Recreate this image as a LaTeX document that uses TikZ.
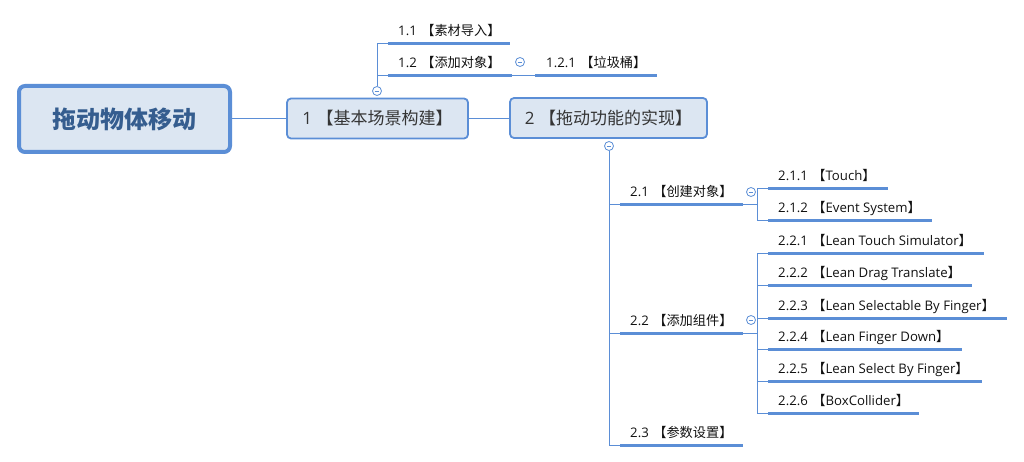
\documentclass[tikz,border=0pt]{standalone}
\usepackage{fontspec}
\setmainfont{Open Sans}
\newfontfamily\cjk{Noto Sans CJK SC}
\definecolor{lineblue}{HTML}{5B8ED6}
\definecolor{boxfill}{HTML}{DCE6F2}
\definecolor{roottext}{HTML}{355D8F}
\definecolor{txt}{HTML}{111111}
\newcommand{\lb}{{\cjk 【}}
\newcommand{\rb}{{\cjk 】}}
\newcommand{\gap}{\hspace{4.5pt}}
\tikzset{
  rootbox/.style={draw=lineblue, line width=4pt, fill=boxfill, rounded corners=6pt, minimum width=211pt, minimum height=66pt, inner sep=0pt, font=\cjk\fontsize{24}{28}\selectfont\bfseries, text=roottext},
  mainbox/.style={draw=lineblue, line width=1.8pt, fill=boxfill, rounded corners=4pt, minimum height=40pt, inner sep=0pt, font=\fontsize{17}{20}\selectfont, text=txt!85},
  lbl/.style={anchor=base west, inner sep=0pt, font=\fontsize{13.2}{15}\selectfont, text=txt},
  uline/.style={draw=lineblue, line width=3pt},
  conn/.style={draw=lineblue, line width=1pt},
  fold/.style={circle, draw=lineblue, line width=0.8pt, fill=white, minimum size=9pt, inner sep=0pt,
    path picture={\draw[lineblue, line width=0.8pt] ([xshift=-2.3pt]path picture bounding box.center) -- ([xshift=2.3pt]path picture bounding box.center);}}
}
\begin{document}
\begin{tikzpicture}[x=1pt, y=-1pt]
\useasboundingbox (0,0) rectangle (1024,462);

% main boxes
\node[rootbox] (root) at (124.5,119) {拖动物体移动};
\node[mainbox, minimum width=181pt] (n1) at (377.5,118.5) {1\gap{\cjk 【基本场景构建】}};
\node[mainbox, minimum width=197pt] (n2) at (608.5,118) {2\gap{\cjk 【拖动功能的实现】}};

\draw[conn] (root.east |- n1.west) -- (n1.west);
\draw[conn] (n1.east) -- (n2.west |- n1.east);

% ---------- branch 1 ----------
\node[fold] (f1) at (377,91) {};
\coordinate (u11s) at (388,44);  \coordinate (u11e) at (510,44);
\coordinate (u12s) at (388,76);  \coordinate (u12e) at (512,76);
\coordinate (u121s) at (535,76); \coordinate (u121e) at (657,76);
\draw[conn] (f1.north) -- (f1.north |- u11s) -- (u11s);
\draw[conn] (f1.north |- u12s) -- (u12s);
\draw[uline] (u11s) -- (u11e);
\draw[uline] (u12s) -- (u12e);
\draw[conn] (u12e) -- (u121s);
\draw[uline] (u121s) -- (u121e);
\node[fold] (f12) at (520,62) {};
\node[lbl] (t11) at (398,36) {1.1\gap{\cjk 【素材导入】}};
\node[lbl] (t12) at (398,68) {1.2\gap{\cjk 【添加对象】}};
\node[lbl] (t121) at (546,68) {1.2.1\gap{\cjk 【垃圾桶】}};

% ---------- branch 2 ----------
\node[fold] (f2) at (609,146) {};
\coordinate (u21s) at (620,205);  \coordinate (u21e) at (743,205);
\coordinate (u22s) at (620,333);  \coordinate (u22e) at (743,333);
\coordinate (u23s) at (620,445);  \coordinate (u23e) at (743,445);
\draw[conn] (f2.south) -- (f2.south |- u23s) -- (u23s);
\draw[conn] (f2.south |- u21s) -- (u21s);
\draw[conn] (f2.south |- u22s) -- (u22s);
\draw[uline] (u21s) -- (u21e);
\draw[uline] (u22s) -- (u22e);
\draw[uline] (u23s) -- (u23e);
\node[lbl] (t21) at (630,197) {2.1\gap{\cjk 【创建对象】}};
\node[lbl] (t22) at (630,325) {2.2\gap{\cjk 【添加组件】}};
\node[lbl] (t23) at (630,437) {2.3\gap{\cjk 【参数设置】}};

% 2.1 children
\coordinate (v21) at (757,205);
\coordinate (u211s) at (768,189); \coordinate (u211e) at (888,189);
\coordinate (u212s) at (768,221); \coordinate (u212e) at (932,221);
\draw[conn] (u21e) -- (v21);
\draw[conn] (u211s) -| (v21) |- (u212s);
\draw[uline] (u211s) -- (u211e);
\draw[uline] (u212s) -- (u212e);
\node[fold] (f21) at (751,192) {};
\node[lbl] (t211) at (778,181) {2.1.1\gap\lb Touch\rb};
\node[lbl] (t212) at (778,213) {2.1.2\gap\lb Event System\rb};

% 2.2 children
\coordinate (v22) at (757,333);
\coordinate (u221s) at (768,253); \coordinate (u221e) at (984,253);
\coordinate (u222s) at (768,285); \coordinate (u222e) at (972,285);
\coordinate (u223s) at (768,318); \coordinate (u223e) at (1007,318);
\coordinate (u224s) at (768,349); \coordinate (u224e) at (962,349);
\coordinate (u225s) at (768,381); \coordinate (u225e) at (982,381);
\coordinate (u226s) at (768,413); \coordinate (u226e) at (919,413);
\draw[conn] (u22e) -- (v22);
\draw[conn] (u221s) -| (v22) |- (u226s);
\draw[conn] (v22 |- u222s) -- (u222s);
\draw[conn] (v22 |- u223s) -- (u223s);
\draw[conn] (v22 |- u224s) -- (u224s);
\draw[conn] (v22 |- u225s) -- (u225s);
\draw[uline] (u221s) -- (u221e);
\draw[uline] (u222s) -- (u222e);
\draw[uline] (u223s) -- (u223e);
\draw[uline] (u224s) -- (u224e);
\draw[uline] (u225s) -- (u225e);
\draw[uline] (u226s) -- (u226e);
\node[fold] (f22) at (751,320) {};
\node[lbl] (t221) at (778,245) {2.2.1\gap\lb Lean Touch Simulator\rb};
\node[lbl] (t222) at (778,277) {2.2.2\gap\lb Lean Drag Translate\rb};
\node[lbl] (t223) at (778,310) {2.2.3\gap\lb Lean Selectable By Finger\rb};
\node[lbl] (t224) at (778,341) {2.2.4\gap\lb Lean Finger Down\rb};
\node[lbl] (t225) at (778,373) {2.2.5\gap\lb Lean Select By Finger\rb};
\node[lbl] (t226) at (778,405) {2.2.6\gap\lb BoxCollider\rb};
\end{tikzpicture}
\end{document}
